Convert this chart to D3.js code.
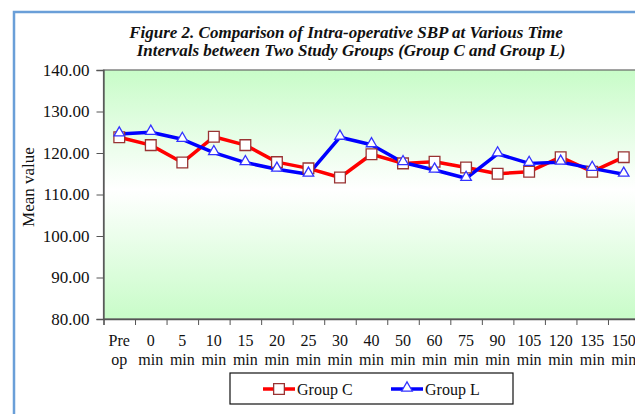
<!DOCTYPE html>
<html>
<head>
<meta charset="utf-8">
<script src="https://cdn.jsdelivr.net/npm/d3@7"></script>
<style>
  body { margin: 0; background: #fff; }
  svg { display: block; font-family: "Liberation Serif", "Times New Roman", serif; }
  svg text { font-family: "Liberation Serif", "Times New Roman", serif; }
</style>
</head>
<body>
<div id="PlotArea"></div>
<script>
// time points and mean SBP for both groups
var categories = ["Pre op", "0 min", "5 min", "10 min", "15 min", "20 min", "25 min", "30 min", "40 min",
                  "50 min", "60 min", "75 min", "90 min", "105 min", "120 min", "135 min", "150 min"];
var groupC = [123.8, 121.9, 117.7, 123.9, 121.9, 117.8, 116.3, 114.1, 119.7, 117.5, 117.9, 116.5, 115.0, 115.5, 119.0, 115.5, 119.0];
var groupL = [124.6, 125.0, 123.3, 120.1, 117.7, 116.1, 114.9, 123.8, 122.0, 117.7, 115.9, 113.9, 119.8, 117.5, 117.8, 116.3, 114.9];
var yTicks = [80, 90, 100, 110, 120, 130, 140];
var seriesNames = ["Group C", "Group L"];

var W = 635, H = 414;
var plot = {left: 103.5, right: 639.5, top: 70, bottom: 319};

var svg = d3.select("#PlotArea").append("svg")
  .attr("width", W).attr("height", H);

// outer chart frame (right/bottom fall outside the crop)
svg.append("rect")
  .attr("x", 14).attr("y", 12).attr("width", 640).attr("height", 420)
  .attr("fill", "#fff").attr("stroke", "#6a9fd8").attr("stroke-width", 2.5);

// title
var title = svg.append("text")
  .attr("x", 346).attr("y", 38)
  .attr("text-anchor", "middle").attr("fill", "#111")
  .style("font-size", "17px").style("font-weight", "bold").style("font-style", "italic");
title.append("tspan").attr("x", 346).text("Figure 2. Comparison of Intra-operative SBP at Various Time");
title.append("tspan").attr("x", 351).attr("dy", 17.5).text("Intervals between Two Study Groups (Group C and Group L)");

var xscale = d3.scaleBand().domain(categories).range([plot.left, plot.right]).padding(0);
var xedge = d3.scaleLinear().domain([0, categories.length]).range([plot.left, plot.right]);
var yscale = d3.scaleLinear().domain([80, 140]).range([plot.bottom, plot.top]);

// plot background gradient
var grad = svg.append("defs").append("linearGradient")
  .attr("id", "bg").attr("x1", 0).attr("y1", 0).attr("x2", 0).attr("y2", 1);
grad.append("stop").attr("offset", "0%").attr("stop-color", "#c8fcc8");
grad.append("stop").attr("offset", "48%").attr("stop-color", "#ffffff");
grad.append("stop").attr("offset", "100%").attr("stop-color", "#c8fcc8");

svg.append("rect")
  .attr("x", plot.left).attr("y", plot.top)
  .attr("width", plot.right - plot.left).attr("height", plot.bottom - plot.top)
  .attr("fill", "url(#bg)").attr("stroke", "#666").attr("stroke-width", 1.2);

// y axis
var y_axis = d3.axisLeft(yscale).tickValues(yTicks).tickSize(7).tickPadding(7)
  .tickFormat(d3.format(".2f"));
var gy = svg.append("g").attr("transform", "translate(" + plot.left + ",0)").call(y_axis);
gy.attr("font-family", null).attr("font-size", null);
gy.select(".domain").attr("stroke", "#555").attr("stroke-width", 1.3);
gy.selectAll(".tick line").attr("stroke", "#555");
gy.selectAll(".tick text").attr("fill", "#111")
  .style("font-family", "'Liberation Serif', serif")
  .style("font-size", "17px");

// x axis: tick marks on category edges, labels in two lines under each category
var x_axis = d3.axisBottom(xedge).ticks(categories.length).tickSize(6).tickFormat("");
var gx = svg.append("g").attr("transform", "translate(0," + plot.bottom + ")").call(x_axis);
gx.select(".domain").attr("stroke", "#555").attr("stroke-width", 1.3);
gx.selectAll(".tick line").attr("stroke", "#555");

var xl = svg.append("g").selectAll("text").data(categories).enter().append("text")
  .attr("text-anchor", "middle")
  .attr("fill", "#111")
  .style("font-size", "16px");
xl.each(function(d) {
  var parts = d.split(" ");
  var cx = xscale(d) + xscale.bandwidth() / 2;
  var t = d3.select(this);
  t.append("tspan").attr("x", cx).attr("y", 346).text(parts[0]);
  t.append("tspan").attr("x", cx).attr("y", 365).text(parts[1]);
});

// y title
svg.append("text")
  .attr("transform", "translate(34,187) rotate(-90)")
  .attr("text-anchor", "middle")
  .style("font-size", "17px").attr("fill", "#111")
  .text("Mean value");

var lineFunction = d3.line()
  .x(function(d, i) { return xscale(categories[i]) + xscale.bandwidth() / 2; })
  .y(function(d) { return yscale(d); });

// Group C - red line, square markers
svg.append("path").attr("fill", "none").attr("stroke", "#ff0000").attr("stroke-width", 3.5)
  .attr("stroke-linejoin", "round").attr("d", lineFunction(groupC));
// Group L - blue line, triangle markers
svg.append("path").attr("fill", "none").attr("stroke", "#0000ff").attr("stroke-width", 3.5)
  .attr("stroke-linejoin", "round").attr("d", lineFunction(groupL));

var sq = d3.symbol().type(d3.symbolSquare).size(115);
var tri = d3.symbol().type(d3.symbolTriangle).size(48);

svg.append("g").selectAll("path").data(groupC).enter().append("path")
  .attr("d", sq)
  .attr("transform", function(d, i) {
    return "translate(" + (xscale(categories[i]) + xscale.bandwidth() / 2) + "," + yscale(d) + ")";
  })
  .attr("fill", "#fff").attr("stroke", "#993333").attr("stroke-width", 1.3);

svg.append("g").selectAll("path").data(groupL).enter().append("path")
  .attr("d", tri)
  .attr("transform", function(d, i) {
    return "translate(" + (xscale(categories[i]) + xscale.bandwidth() / 2) + "," + (yscale(d) - 1) + ")";
  })
  .attr("fill", "#fff").attr("stroke", "#3333ff").attr("stroke-width", 1.3);

// legend
svg.append("rect").attr("x", 230).attr("y", 373).attr("width", 283).attr("height", 31)
  .attr("fill", "#fff").attr("stroke", "#111").attr("stroke-width", 1.2);

var legendX = [263, 391];
var legendColors = ["#ff0000", "#0000ff"];
var legendStroke = ["#993333", "#3333ff"];
var legend = svg.selectAll(".legend").data(seriesNames).enter().append("g")
  .attr("class", "legend")
  .attr("transform", function(d, i) { return "translate(" + legendX[i] + ",389)"; });

legend.append("line").attr("x1", 0).attr("x2", 32).attr("y1", 0).attr("y2", 0)
  .attr("stroke", function(d, i) { return legendColors[i]; }).attr("stroke-width", 3.5);
legend.append("path")
  .attr("d", function(d, i) { return i == 0 ? sq() : tri(); })
  .attr("transform", function(d, i) { return "translate(16," + (i == 0 ? 0 : -1) + ")"; })
  .attr("fill", "#fff")
  .attr("stroke", function(d, i) { return legendStroke[i]; }).attr("stroke-width", 1.3);
legend.append("text").attr("x", 34).attr("y", 5.5)
  .style("font-size", "16px").attr("fill", "#111")
  .text(function(d) { return d; });
</script>
</body>
</html>
